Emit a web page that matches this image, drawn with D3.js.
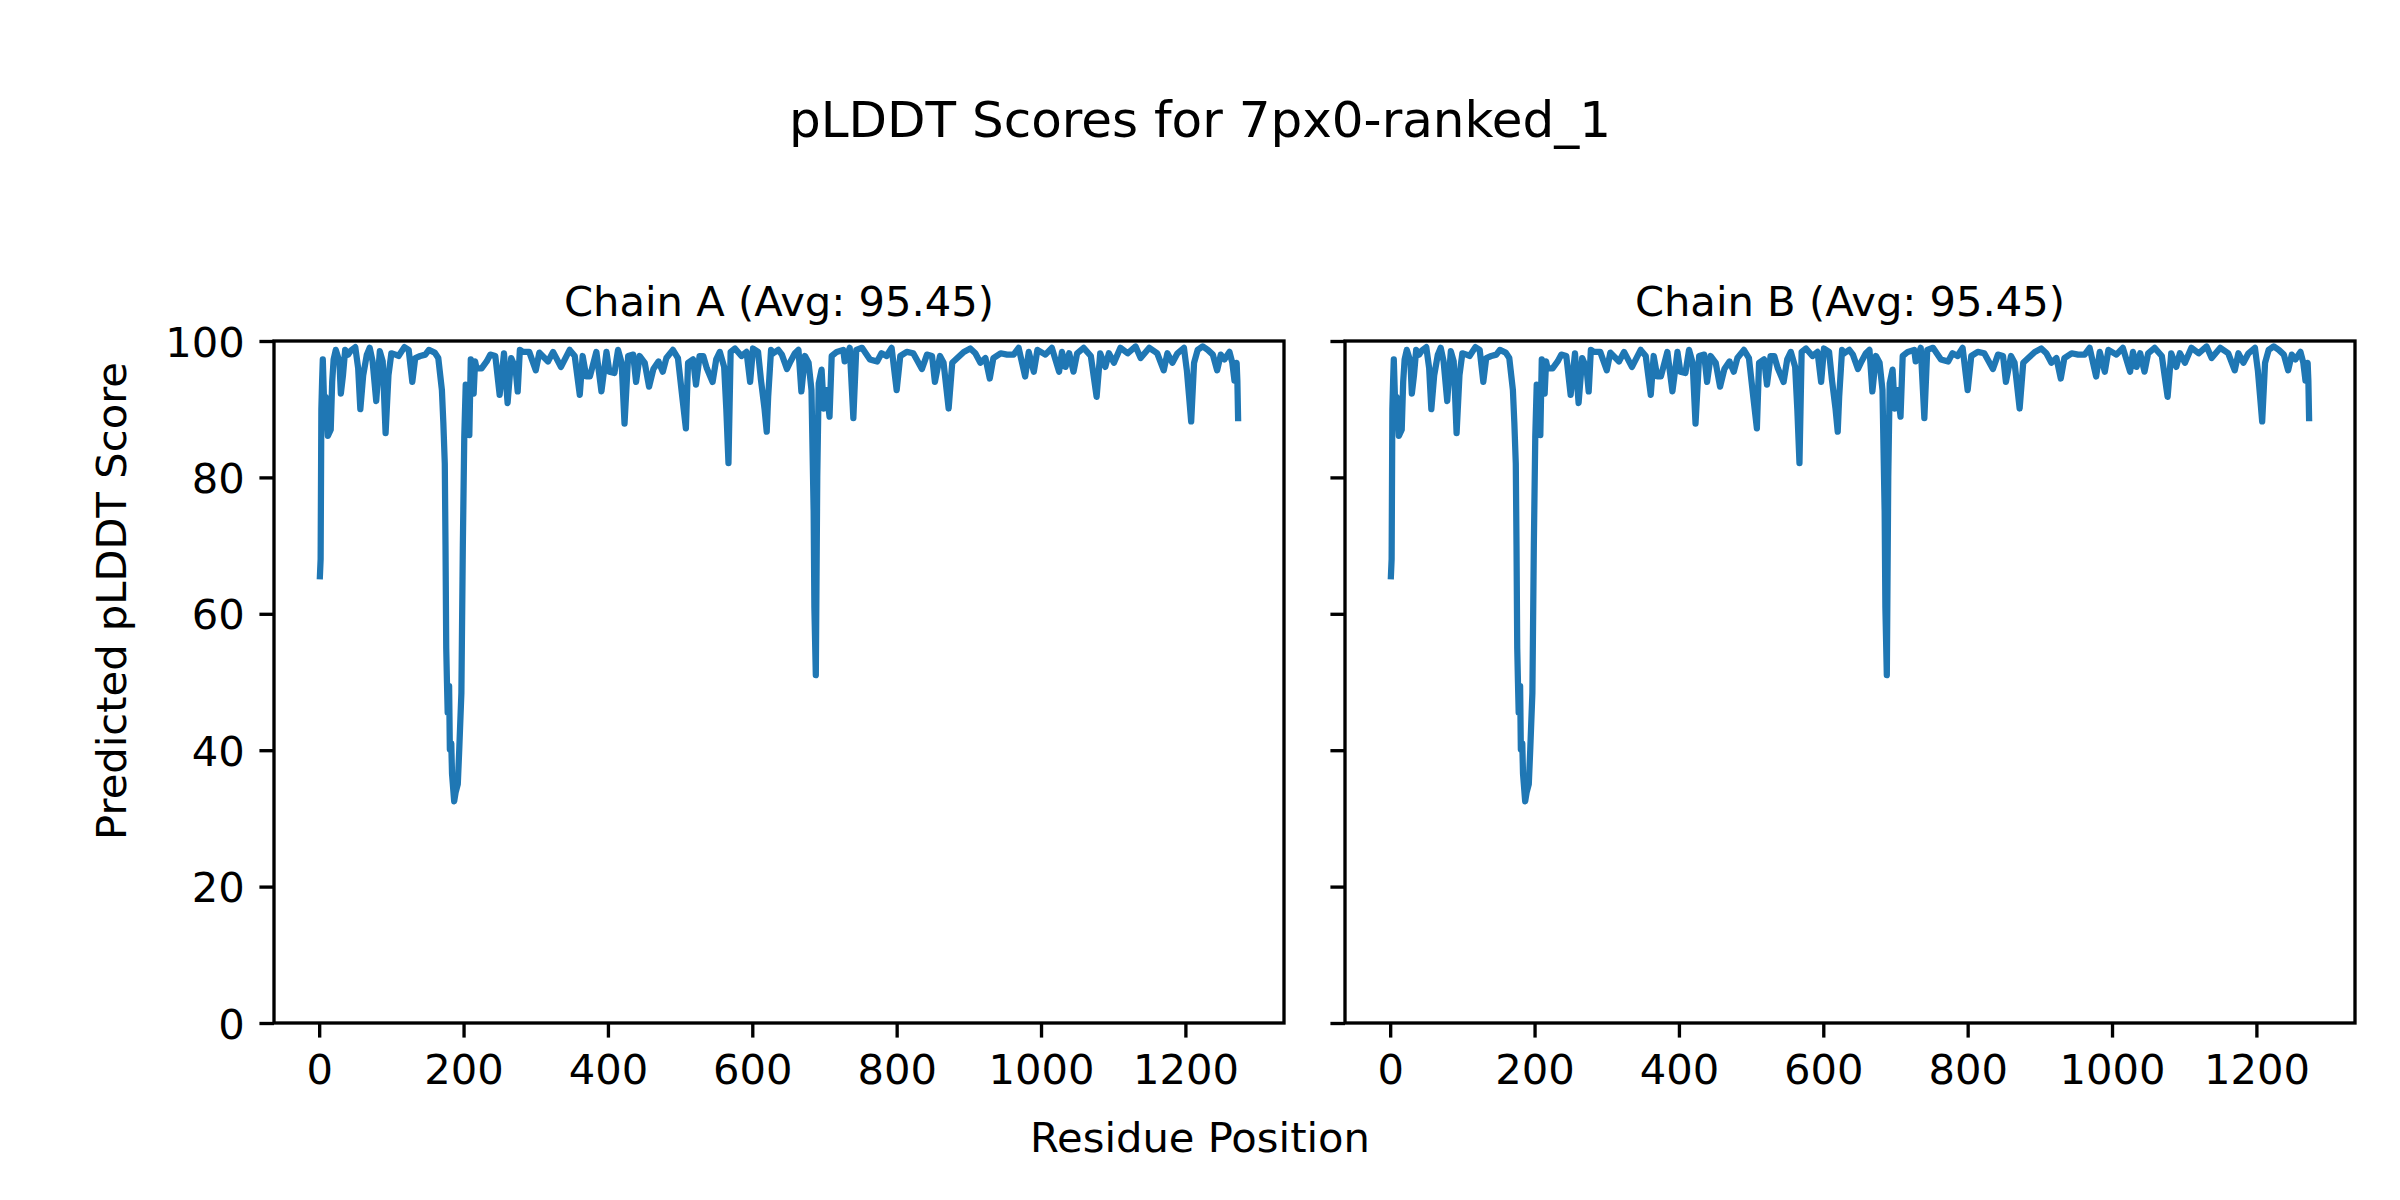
<!DOCTYPE html>
<html lang="en">
<head>
    <meta charset="UTF-8">
    <title>pLDDT Scores for 7px0-ranked_1</title>
    <script src="https://d3js.org/d3.v7.min.js"></script>
    <style>
        body { margin: 0; background: #fff; }
        text { font-family: "DejaVu Sans", sans-serif; fill: #000; }
    </style>
</head>
<body>
<div id="chart"></div>

<script>

    // residue positions and scores (both chains are identical)
    const residues = [1, 2, 3, 4, 5, 7, 9, 12, 16, 18, 20, 23, 28, 30, 33, 36, 40, 44, 50, 54,
        57, 61, 66, 70, 74, 79, 84, 88, 92, 96, 100, 106, 110, 118, 124, 129, 133, 140, 147, 152,
        160, 165, 170, 172, 174, 175, 176, 177, 178, 180, 181, 183, 184, 187, 189, 192, 194, 197, 199, 201,
        203, 205, 208, 210, 214, 216, 218, 225, 232, 237, 244, 250, 256, 261, 266, 272, 275, 278, 282, 291,
        300, 305, 317, 324, 335, 347, 354, 361, 365, 370, 375, 384, 391, 398, 402, 409, 414, 419, 423, 428,
        435, 439, 444, 451, 457, 463, 470, 476, 481, 490, 497, 503, 508, 511, 518, 522, 527, 532, 537, 545,
        550, 555, 561, 564, 567, 570, 576, 585, 592, 597, 601, 608, 612, 617, 620, 622, 626, 629, 636, 641,
        648, 652, 659, 664, 668, 673, 678, 682, 685, 686, 688, 690, 692, 696, 699, 703, 707, 710, 717, 726,
        728, 735, 740, 744, 752, 763, 773, 779, 786, 793, 800, 805, 814, 823, 835, 842, 849, 853, 860, 865,
        872, 877, 884, 893, 902, 909, 916, 923, 929, 934, 944, 953, 962, 969, 978, 983, 990, 995, 1006, 1015,
        1025, 1029, 1034, 1039, 1045, 1050, 1059, 1069, 1077, 1082, 1089, 1094, 1101, 1110, 1120, 1131, 1138, 1150, 1161, 1170,
        1175, 1182, 1189, 1198, 1202, 1205, 1208, 1212, 1217, 1224, 1231, 1238, 1244, 1249, 1254, 1261, 1265, 1268, 1271, 1272,
        1273];

    const chainAScores = [65.5, 68, 90, 94, 97.3, 90.4, 91.8, 86.1, 87, 94, 97.3, 98.7, 97, 92.3, 95, 98.7, 98, 98.6, 99.1, 96,
        90.0, 95, 98, 99, 97, 91.2, 98.5, 97, 86.5, 95, 98.2, 98, 97.8, 99.1, 98.7, 94.0, 97.5, 97.8, 98, 98.7,
        98.3, 97.5, 92.8, 88, 82, 70, 55, 50, 45.5, 49.4, 40.1, 41, 36.6, 32.5, 33.8, 35, 40, 48.4, 70, 86,
        93.6, 93, 86.2, 97.3, 92.3, 97, 96, 96, 97, 98, 97.8, 92.1, 98.2, 90.9, 97.5, 96, 92.6, 98.7, 98.4, 98.4,
        95.7, 98.3, 97, 98.4, 96.2, 98.7, 97.8, 92.1, 97.8, 94.8, 94.8, 98.4, 92.6, 98.4, 95.5, 95.3, 98.7, 96.8, 87.9, 97.8,
        98, 94, 97.8, 96.8, 93.3, 95.9, 97, 95.5, 97.5, 98.7, 97.5, 91.8, 87.2, 96.8, 97.3, 93.6, 97.8, 97.8, 96, 94,
        97.3, 98.4, 96.2, 90, 82.1, 98.4, 98.9, 97.8, 98.4, 94, 98.9, 98.4, 94.3, 90, 86.7, 91.8, 98.7, 98.2, 98.7, 98,
        95.9, 96.8, 98.2, 98.7, 92.6, 97.8, 96.8, 92.8, 75, 61, 51, 80, 93.8, 95.8, 90.1, 92.8, 88.9, 97.8, 98.4, 98.7,
        97, 99, 88.7, 98.7, 99, 97.3, 97, 98.2, 97.8, 99, 92.8, 97.8, 98.4, 98.2, 95.9, 98, 97.8, 94, 97.8, 96.8,
        90.1, 96.8, 97.5, 98.4, 98.9, 98.2, 96.8, 97.5, 94.5, 97.5, 98.2, 98, 98, 99, 94.8, 98.4, 95.5, 98.7, 98, 99,
        95.5, 98.4, 96.2, 98.2, 95.5, 98.2, 99, 97.8, 91.8, 98.2, 96.2, 98.2, 96.8, 99, 98.2, 99.2, 97.5, 99, 98.2, 95.7,
        98.2, 96.8, 98.2, 99, 95.7, 92, 88.2, 96.8, 98.7, 99.2, 98.7, 98, 95.7, 98, 97.3, 98.4, 96.8, 94.2, 96.8, 94.2,
        88.7];
    const chainBScores = chainAScores;

    const chains = [
        {name: "Chain A", avg: "95.45", scores: chainAScores},
        {name: "Chain B", avg: "95.45", scores: chainBScores}
    ];
    const xTicks = [0, 200, 400, 600, 800, 1000, 1200];
    const yTicks = [0, 20, 40, 60, 80, 100];

    var W = 2400, H = 1200;
    var pt = 300 / 72;   // px per point at 300 dpi
    var plotTop = 341, plotBottom = 1023;
    var panels = [[274, 1284], [1345, 2355]];

    var svg = d3.select("#chart")
        .append("svg")
        .attr("width", W)
        .attr("height", H);

    svg.append("rect").attr("width", W).attr("height", H).attr("fill", "#fff");

    // x limits with matplotlib's 5% margins
    var xmin = d3.min(residues), xmax = d3.max(residues);
    var pad = (xmax - xmin) * 0.05;

    var y = d3.scaleLinear()
        .domain([0, 100])
        .range([plotBottom, plotTop]);

    chains.forEach(function (chain, i) {
        var x = d3.scaleLinear()
            .domain([xmin - pad, xmax + pad])
            .range(panels[i]);

        var g = svg.append("g");

        // x axis
        var xa = g.append("g")
            .attr("transform", "translate(0," + plotBottom + ")")
            .call(d3.axisBottom(x).tickValues(xTicks).tickFormat(d3.format("d"))
                .tickSize(3.5 * pt).tickPadding(3.5 * pt));
        xa.select(".domain").remove();
        xa.selectAll("line").attr("stroke", "#000").attr("stroke-width", 0.8 * pt);
        xa.selectAll("text")
            .attr("dy", "0.76em")
            .style("font-size", (10 * pt) + "px")
            .style("font-family", "DejaVu Sans");

        // y axis (labels only on the first panel)
        var yAxis = d3.axisLeft(y).tickValues(yTicks).tickSize(3.5 * pt).tickPadding(3.5 * pt);
        if (i > 0) yAxis.tickFormat("");
        var ya = g.append("g")
            .attr("transform", "translate(" + panels[i][0] + ",0)")
            .call(yAxis);
        ya.select(".domain").remove();
        ya.selectAll("line").attr("stroke", "#000").attr("stroke-width", 0.8 * pt);
        ya.selectAll("text")
            .attr("dy", "0.36em")
            .style("font-size", (10 * pt) + "px")
            .style("font-family", "DejaVu Sans");

        // score line
        var line = d3.line()
            .x(function (d, k) { return x(residues[k]); })
            .y(function (d) { return y(d); });

        g.append("path")
            .datum(chain.scores)
            .attr("fill", "none")
            .attr("stroke", "#1f77b4")
            .attr("stroke-width", 1.5 * pt)
            .attr("stroke-linejoin", "round")
            .attr("stroke-linecap", "square")
            .attr("d", line);

        // frame
        g.append("rect")
            .attr("x", panels[i][0])
            .attr("y", plotTop)
            .attr("width", panels[i][1] - panels[i][0])
            .attr("height", plotBottom - plotTop)
            .attr("fill", "none")
            .attr("stroke", "#000")
            .attr("stroke-width", 0.8 * pt);

        // panel title
        g.append("text")
            .attr("x", (panels[i][0] + panels[i][1]) / 2)
            .attr("y", plotTop - 6 * pt)
            .attr("text-anchor", "middle")
            .style("font-size", (10 * pt) + "px")
            .text(chain.name + " (Avg: " + chain.avg + ")");
    });

    // figure title and shared labels
    svg.append("text")
        .attr("x", W / 2)
        .attr("y", 137)
        .attr("text-anchor", "middle")
        .style("font-size", (12 * pt) + "px")
        .text("pLDDT Scores for 7px0-ranked_1");

    svg.append("text")
        .attr("x", W / 2)
        .attr("y", 1152)
        .attr("text-anchor", "middle")
        .style("font-size", (10 * pt) + "px")
        .text("Residue Position");

    svg.append("text")
        .attr("transform", "translate(126,601) rotate(-90)")
        .attr("text-anchor", "middle")
        .style("font-size", (10 * pt) + "px")
        .text("Predicted pLDDT Score");

</script>
</body>
</html>
